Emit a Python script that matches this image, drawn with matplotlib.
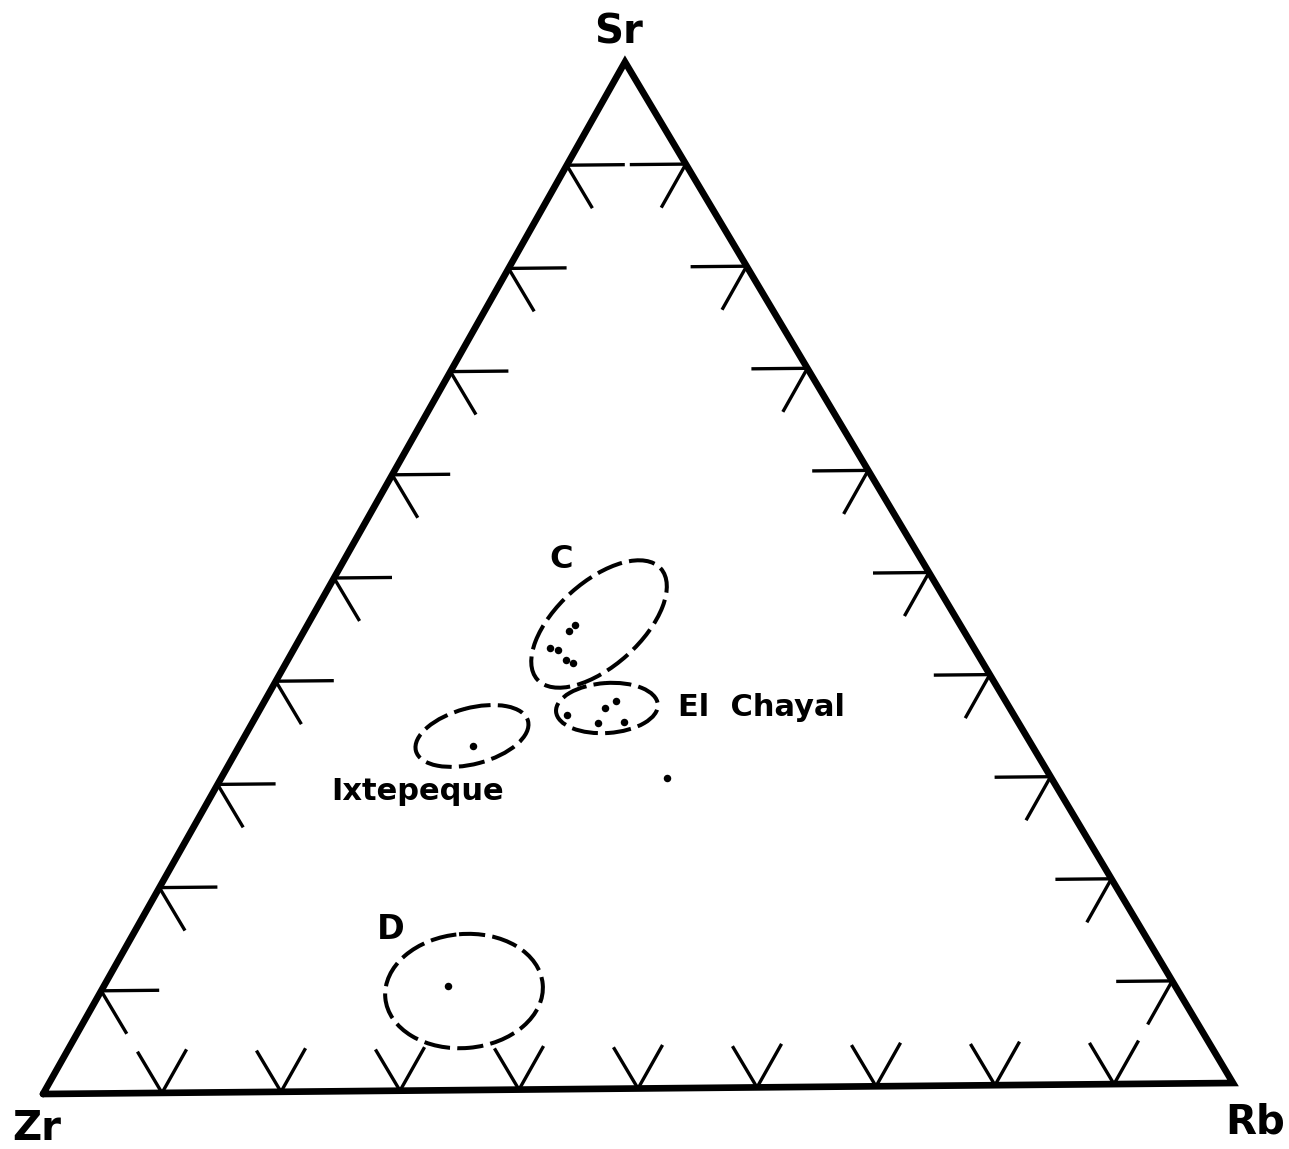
import numpy as np
import matplotlib
matplotlib.use("Agg")
import matplotlib.pyplot as plt
from matplotlib.patches import Ellipse

# ---------------- data (ternary compositions, fractions) ----------------
corner_labels = ["Zr", "Rb", "Sr"]

# sample points: Sr, Rb fractions (Zr = 1 - Sr - Rb)
c_sr = [0.452, 0.446, 0.430, 0.428, 0.418, 0.415]
c_rb = [0.226, 0.224, 0.216, 0.2235, 0.235, 0.242]

elchayal_sr = [0.3645, 0.371, 0.378, 0.356, 0.357]
elchayal_rb = [0.262, 0.291, 0.297, 0.292, 0.3136]

ixtepeque_sr = [0.335]
ixtepeque_rb = [0.1975]

other_sr = [0.302]
other_rb = [0.3766]

d_sr = [0.1016]
d_rb = [0.2907]

# group fields: name, centre (Sr, Rb), full width/height in px, tilt in degrees
group_names = ["C", "El  Chayal", "Ixtepeque", "D"]
group_sr = [0.4528, 0.3709, 0.3449, 0.0965]
group_rb = [0.2458, 0.2925, 0.1918, 0.3066]
group_w = [166, 102, 116, 158]
group_h = [84, 50, 56, 114]
group_angle = [42, 4, 15, 5]

tick_fracs = [0.1, 0.2, 0.3, 0.4, 0.5, 0.6, 0.7, 0.8, 0.9]

# ---------------- layout (pixel frame of the figure) ----------------
W, H = 1289, 1149
Z = np.array([43.0, 1094.0])
R = np.array([1233.0, 1083.0])
S = np.array([625.0, 62.0])


def tern(sr, rb):
    sr = np.asarray(sr, float)
    rb = np.asarray(rb, float)
    p = Z[None, :] + rb[:, None] * (R - Z)[None, :] + sr[:, None] * (S - Z)[None, :]
    return p[:, 0], p[:, 1]


def unit(v):
    return v / np.linalg.norm(v)


fig = plt.figure(figsize=(W / 100, H / 100), dpi=100)
ax = fig.add_axes([0, 0, 1, 1])
ax.set_xlim(0, W)
ax.set_ylim(H, 0)
ax.axis("off")

# triangle
tri = np.array([Z, R, S, Z])
ax.plot(tri[:, 0], tri[:, 1], color="black", lw=4.8,
        solid_joinstyle="miter", solid_capstyle="round", zorder=3)

tick_lw = 2.4
# left side ticks (Zr-Sr)
for t in tick_fracs:
    p = Z + t * (S - Z)
    for d, L in [(unit(R - Z), 58), (unit(R - S), 50)]:
        q = p + d * L
        ax.plot([p[0], q[0]], [p[1], q[1]], color="black", lw=tick_lw,
                solid_capstyle="butt")
# right side ticks (Rb-Sr)
for t in tick_fracs:
    p = R + t * (S - R)
    for d, L in [(unit(Z - R), 56), (unit(Z - S), 50)]:
        q = p + d * L
        ax.plot([p[0], q[0]], [p[1], q[1]], color="black", lw=tick_lw,
                solid_capstyle="butt")
# bottom ticks (Zr-Rb)
for t in tick_fracs:
    p = Z + t * (R - Z)
    for d, L in [(unit(S - R), 48), (unit(S - Z), 50)]:
        q = p + d * L
        ax.plot([p[0], q[0]], [p[1], q[1]], color="black", lw=tick_lw,
                solid_capstyle="butt")

# group fields (dashed ellipses)
gx, gy = tern(group_sr, group_rb)
for i in range(len(group_names)):
    e = Ellipse((gx[i], gy[i]), group_w[i], group_h[i], angle=-group_angle[i],
                fill=False, edgecolor="black", lw=2.9, linestyle=(0, (6.5, 1.8)),
                zorder=2)
    ax.add_patch(e)

# sample points
for sr, rb in [(c_sr, c_rb), (elchayal_sr, elchayal_rb),
               (ixtepeque_sr, ixtepeque_rb), (other_sr, other_rb), (d_sr, d_rb)]:
    x, y = tern(sr, rb)
    ax.plot(x, y, "o", color="black", ms=5.4, mew=0, zorder=4)

font = dict(family="DejaVu Sans", weight="bold", color="black")

# corner labels
ax.text(S[0] - 6, S[1] - 10, corner_labels[2], ha="center", va="bottom",
        fontsize=29, **font)
ax.text(Z[0] - 6, Z[1] + 46, corner_labels[0], ha="center", va="baseline",
        fontsize=29, **font)
ax.text(R[0] + 22, R[1] + 50, corner_labels[1], ha="center", va="baseline",
        fontsize=29, **font)

# group labels
ax.text(gx[0] - 38, gy[0] - 56, group_names[0], ha="center", va="baseline",
        fontsize=23, **font)
ax.text(gx[1] + 71, gy[1] + 8, group_names[1], ha="left", va="baseline",
        fontsize=22, **font)
ax.text(gx[2] - 54, gy[2] + 64, group_names[2], ha="center", va="baseline",
        fontsize=22, **font)
ax.text(gx[3] - 73, gy[3] - 52, group_names[3], ha="center", va="baseline",
        fontsize=24, **font)

fig.savefig("out.png", dpi=100, facecolor="white")
